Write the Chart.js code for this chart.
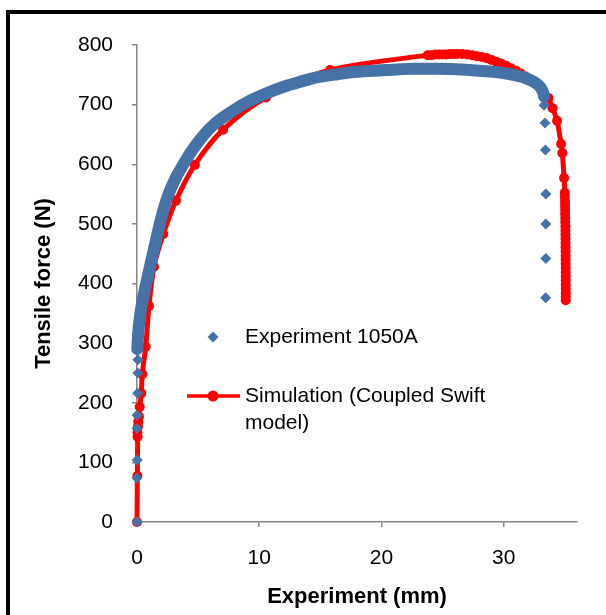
<!DOCTYPE html>
<html lang="en">
<head>
<meta charset="UTF-8">
<title>Tensile force vs displacement</title>
<script src="https://cdn.jsdelivr.net/npm/chart.js"></script>
<style>
    html, body {
        margin: 0;
        padding: 0;
        background: #fff;
    }
    #wrap {
        position: relative;
        width: 606px;
        height: 615px;
    }
    #frame {
        position: absolute;
        left: 6px;
        top: 10px;
        right: -10px;
        bottom: -10px;
        border-left: 4px solid #000;
        border-top: 4px solid #000;
        pointer-events: none;
    }
</style>
</head>
<body>
<div id="wrap">
    <canvas id="chart" width="606" height="615"></canvas>
    <div id="frame"></div>
</div>
<script>
// Experiment 1050A: displacement (mm) and force (N)
const expX = [0, 0.0, 0.02, 0.0, 0.0, 0.05, 0.07, 0.07, 0.0,
    0.02, 0.1, 0.25, 0.46, 0.75, 1.06, 1.36, 1.66, 1.95, 2.29, 2.7, 3.24, 3.8, 4.4,
    5.15, 6.0, 6.8, 7.87, 9.0, 10.6, 12.0, 13.3, 14.8, 16.4, 18.0, 20.4, 22.5,
    24.5, 26.5, 28.6, 30.0, 30.8, 31.6, 32.2, 32.7, 33.0, 33.2, 33.3,
    33.3, 33.38, 33.42, 33.45, 33.45, 33.45, 33.44];
const expF = [0, 74, 104, 157, 179, 216, 250, 272, 300,
    290, 317, 345, 372, 400, 428, 455, 482, 507, 532, 556, 580, 600, 620,
    641, 661, 675, 690, 704, 719, 730, 738, 746, 751, 755, 758, 760,
    760, 759, 756, 753, 750, 746, 741, 735, 729, 722, 714,
    699, 669, 624, 550, 500, 442, 376];
// index range of the dense measured band (drawn as a thick ribbon)
const bandStart = 9;
const bandEnd = 46;

// Simulation (Coupled Swift model)
const simX = [0, 0.03, 0.05, 0.04, 0.08, 0.1, 0.16, 0.22, 0.35, 0.43, 0.71, 0.98,
    1.39, 2.15, 3.19, 4.73, 7.04, 10.55, 15.8,
    23.8, 24.1, 24.4, 24.7, 25.0, 25.3, 25.6, 25.9, 26.2, 26.6, 27.0, 27.4, 27.8,
    28.2, 28.6, 29.0, 29.4, 29.8, 30.2, 30.6, 31.0, 31.4, 31.8, 32.2, 32.6, 33.1,
    33.66, 34.0, 34.37, 34.7, 34.8, 34.94, 35.0,
    35.01, 35.02, 35.02, 35.03, 35.03, 35.04, 35.04, 35.05, 35.05, 35.05, 35.06,
    35.06, 35.06, 35.07, 35.07, 35.07, 35.07, 35.08, 35.08, 35.08, 35.08, 35.08,
    35.08, 35.08, 35.08, 35.08];
const simF = [0, 77, 143, 150, 160, 168, 177, 193, 216, 248, 294, 362,
    428, 483, 539, 599, 658, 712, 758,
    783, 783, 784, 784, 784, 784, 785, 785, 785, 785, 784, 783, 781,
    780, 778, 775, 772, 769, 765, 761, 757, 752, 747, 741, 736, 725,
    711, 694, 673, 634, 619, 577, 552,
    545, 538, 531, 524, 517, 510, 503, 496, 489, 482, 475,
    468, 461, 454, 447, 440, 433, 426, 419, 412, 405, 398,
    391, 384, 378, 372];

// axes
const xTicks = [0, 10, 20, 30];
const yTicks = [0, 100, 200, 300, 400, 500, 600, 700, 800];
const xTitle = 'Experiment (mm)';
const yTitle = 'Tensile force (N)';
const expLabel = 'Experiment 1050A';
const simLabel = ['Simulation (Coupled Swift', 'model)'];

const blue = '#4572A7';
const red = '#FF0000';
const axisGrey = '#868686';
const fontFam = '"Liberation Sans", Arial, sans-serif';

const expPoints = expX.map((x, i) => ({x: x, y: expF[i]}));
const simPoints = simX.map((x, i) => ({x: x, y: simF[i]}));

// legend drawn inside the plot, like the original
const insideLegend = {
    id: 'insideLegend',
    afterDatasetsDraw(chart) {
        const ctx = chart.ctx;
        const a = chart.chartArea;
        const mx = a.left + 76;
        const tx = a.left + 108;
        const y1 = a.top + 292;
        const y2 = a.top + 351;
        ctx.save();
        ctx.fillStyle = blue;
        ctx.beginPath();
        ctx.moveTo(mx - 5.5, y1);
        ctx.lineTo(mx, y1 - 5.5);
        ctx.lineTo(mx + 5.5, y1);
        ctx.lineTo(mx, y1 + 5.5);
        ctx.closePath();
        ctx.fill();

        ctx.strokeStyle = red;
        ctx.lineWidth = 3.5;
        ctx.beginPath();
        ctx.moveTo(a.left + 50, y2);
        ctx.lineTo(a.left + 103, y2);
        ctx.stroke();
        ctx.fillStyle = red;
        ctx.beginPath();
        ctx.arc(mx, y2, 5.5, 0, Math.PI * 2);
        ctx.fill();

        ctx.fillStyle = '#000';
        ctx.font = '21px ' + fontFam;
        ctx.textBaseline = 'middle';
        ctx.textAlign = 'left';
        ctx.fillText(expLabel, tx, y1);
        ctx.fillText(simLabel[0], tx, y2);
        ctx.fillText(simLabel[1], tx, y2 + 27);
        ctx.restore();
    }
};

new Chart(document.getElementById('chart'), {
    type: 'scatter',
    data: {
        datasets: [
            {
                label: expLabel,
                data: expPoints,
                showLine: true,
                borderColor: blue,
                backgroundColor: blue,
                borderWidth: 12,
                borderCapStyle: 'round',
                tension: 0.3,
                pointStyle: 'rectRot',
                pointRadius: 5.5,
                pointBorderWidth: 0,
                clip: false,
                segment: {
                    borderColor: c => (c.p0DataIndex >= bandStart && c.p1DataIndex <= bandEnd) ? blue : 'transparent'
                }
            },
            {
                label: simLabel.join(' '),
                data: simPoints,
                showLine: true,
                borderColor: red,
                backgroundColor: red,
                borderWidth: 5,
                tension: 0.3,
                pointStyle: 'circle',
                pointRadius: 5,
                pointBorderWidth: 0,
                clip: false
            }
        ]
    },
    options: {
        responsive: false,
        animation: false,
        events: [],
        layout: {
            padding: {left: 0, right: 29, top: 45, bottom: 0}
        },
        plugins: {
            legend: {display: false},
            tooltip: {enabled: false}
        },
        scales: {
            x: {
                type: 'linear',
                min: 0,
                max: 36,
                afterFit: s => { s.height = 93; },
                afterBuildTicks: s => { s.ticks = xTicks.map(v => ({value: v})); },
                ticks: {
                    color: '#000',
                    font: {family: fontFam, size: 21},
                    padding: 19,
                    maxRotation: 0
                },
                grid: {
                    drawOnChartArea: false,
                    tickLength: 5,
                    lineWidth: 1.5,
                    color: c => (c.tick && c.tick.value === 0) ? 'transparent' : axisGrey
                },
                border: {color: axisGrey, width: 1.5},
                title: {
                    display: true,
                    text: xTitle,
                    color: '#000',
                    font: {family: fontFam, size: 22, weight: 'bold'},
                    padding: {top: 0, bottom: 5}
                }
            },
            y: {
                min: 0,
                max: 800,
                afterFit: s => { s.width = 137; },
                afterBuildTicks: s => { s.ticks = yTicks.map(v => ({value: v})); },
                ticks: {
                    color: '#000',
                    font: {family: fontFam, size: 21},
                    padding: 19
                },
                grid: {
                    drawOnChartArea: false,
                    tickLength: 5,
                    lineWidth: 1.5,
                    color: axisGrey
                },
                border: {color: axisGrey, width: 1.5},
                title: {
                    display: true,
                    text: yTitle,
                    color: '#000',
                    font: {family: fontFam, size: 22, weight: 'bold'},
                    padding: {top: 31, bottom: 0}
                }
            }
        }
    },
    plugins: [insideLegend]
});
</script>
</body>
</html>
